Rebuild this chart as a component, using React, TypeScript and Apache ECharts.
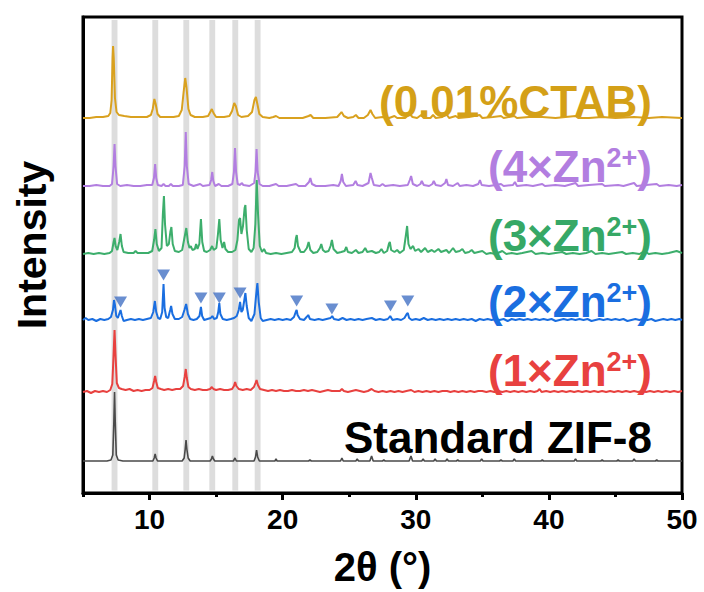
import React, { useEffect, useRef } from 'react';
import * as echarts from 'echarts';

// ---- axis / layout data ----
const xMin = 5;
const xMax = 50;
const majorTicks = [10, 20, 30, 40, 50];
const minorTicks = [5, 15, 25, 35, 45];
const xAxisName = '2θ (°)';
const yAxisName = 'Intensity';

// gray reference bands (2θ centres of standard ZIF-8 reflections)
const bandCenters = [7.37, 10.43, 12.76, 14.71, 16.44, 18.12];
const bandHalfWidth = 0.22;

// ---- pattern data: [2θ, intensity above its own baseline] ----
const stdPattern = [
  [5, 0], [5.6, 0], [6.2, 0], [6.8, 0], [7.1, 1], [7.24, 6], [7.32, 40], [7.37, 69], [7.42, 40], [7.5, 6], [7.64, 1],
  [8.0, 0], [8.6, 0], [9.2, 0], [9.8, 0], [10.25, 0], [10.35, 3], [10.42, 7], [10.49, 3], [10.6, 0], [11.2, 0], [11.8, 0],
  [12.45, 0], [12.6, 3], [12.68, 12], [12.74, 21], [12.8, 12], [12.9, 3], [13.05, 0], [13.8, 0], [14.55, 0], [14.65, 2],
  [14.72, 5], [14.8, 2], [14.9, 0], [15.6, 0], [16.3, 0], [16.42, 3], [16.52, 0], [17.2, 0], [17.85, 0], [17.96, 4],
  [18.04, 11], [18.12, 4], [18.25, 0], [18.9, 0], [19.42, 0], [19.5, 2], [19.58, 0], [20.5, 0], [21.95, 0], [22.05, 1],
  [22.15, 0], [23.2, 0], [24.35, 0], [24.45, 3], [24.55, 0], [25.5, 0], [25.6, 2], [25.7, 0], [26.55, 0], [26.68, 5],
  [26.8, 0], [27.5, 0], [27.6, 1], [27.7, 0], [28.5, 0], [29.5, 0], [29.64, 5], [29.76, 0], [30.45, 0], [30.55, 2],
  [30.65, 0], [31.35, 0], [31.45, 2], [31.55, 0], [32.25, 0], [32.35, 2], [32.45, 0], [33.05, 0], [33.15, 1], [33.25, 0],
  [34.85, 0], [34.95, 2], [35.05, 0], [36.3, 0], [36.4, 1], [36.5, 0], [37.3, 0], [37.4, 2], [37.5, 0], [39.4, 0],
  [39.5, 1], [39.6, 0], [41.0, 0], [41.9, 0], [42.0, 2], [42.1, 0], [43.9, 0], [44.0, 1], [44.1, 0], [45.1, 0],
  [45.2, 1], [45.3, 0], [46.3, 0], [46.4, 2], [46.5, 0], [48.0, 0], [48.1, 1], [48.2, 0], [49.2, 0], [50, 0],
];

const zn1Pattern = [
  [5, 0], [5.3, 1], [5.6, -1], [5.9, 1], [6.2, 0], [6.5, 1], [6.8, 0], [7.05, 2], [7.2, 8], [7.3, 38], [7.37, 62],
  [7.44, 38], [7.54, 9], [7.7, 4], [7.9, 3], [8.2, 2], [8.5, 3], [8.8, 1], [9.1, 2], [9.4, 1], [9.7, 2], [10.0, 2],
  [10.22, 4], [10.34, 11], [10.42, 16], [10.5, 10], [10.62, 4], [10.85, 3], [11.1, 2], [11.4, 3], [11.7, 2], [12.0, 3],
  [12.3, 3], [12.52, 6], [12.64, 15], [12.72, 23], [12.8, 14], [12.92, 5], [13.1, 3], [13.4, 2], [13.7, 3], [14.0, 2],
  [14.3, 2], [14.55, 3], [14.68, 5], [14.8, 3], [15.0, 2], [15.3, 3], [15.6, 2], [15.9, 2], [16.2, 3], [16.34, 6],
  [16.43, 10], [16.52, 6], [16.7, 3], [17.0, 2], [17.3, 3], [17.6, 2], [17.84, 5], [17.96, 9], [18.04, 12], [18.14, 7],
  [18.3, 3], [18.6, 2], [18.9, 1], [19.2, 2], [19.5, 1], [19.8, 2], [20.1, 1], [20.4, 1], [20.7, 2], [21.0, 1],
  [21.3, 1], [21.6, 2], [21.9, 1], [22.2, 2], [22.5, 1], [22.8, 0], [23.1, 1], [23.4, 2], [23.7, 1], [24.0, 1],
  [24.3, 1], [24.45, 3], [24.6, 1], [24.9, 0], [25.2, 1], [25.5, 2], [25.8, 1], [26.1, 0], [26.4, 1], [26.68, 3],
  [26.9, 1], [27.2, 0], [27.5, 1], [27.8, 0], [28.1, 1], [28.4, 0], [28.7, 1], [29.0, 0], [29.3, 1], [29.65, 2],
  [29.9, 0], [30.2, 1], [30.5, 0], [30.8, 1], [31.1, 0], [31.4, 1], [31.7, 0], [32.0, 1], [32.35, 1], [32.6, 0],
  [32.9, 1], [33.2, 0], [33.5, 1], [33.8, 0], [34.1, 1], [34.4, 0], [34.7, 1], [35.0, 1], [35.3, 0], [35.6, 1],
  [35.9, 0], [36.2, 1], [36.5, 0], [36.8, 1], [37.1, 0], [37.4, 1], [37.7, 0], [38.0, 1], [38.3, 0], [38.6, 1],
  [38.9, 0], [39.15, 1], [39.3, 3], [39.45, 0], [39.8, 1], [40.1, 0], [40.4, 1], [40.7, 0], [41.0, 1], [41.3, 0],
  [41.6, 1], [41.9, 0], [42.2, 1], [42.5, 0], [42.8, 1], [43.1, 0], [43.4, 1], [43.7, 0], [44.0, 1], [44.3, 0],
  [44.6, 1], [44.9, 0], [45.2, 1], [45.5, 0], [45.8, 1], [46.1, 0], [46.4, 1], [46.7, 0], [47.0, 1], [47.3, 0],
  [47.6, 1], [47.9, 0], [48.2, 1], [48.5, 0], [48.8, 1], [49.1, 0], [49.4, 1], [49.7, 0], [50, 1],
];

const zn2Pattern = [
  [5, 0], [5.2, 2], [5.4, 0], [5.7, 1], [6.0, -1], [6.3, 1], [6.6, 0], [6.9, 1], [7.1, 3], [7.25, 10], [7.33, 20],
  [7.4, 15], [7.5, 4], [7.62, 2], [7.72, 6], [7.82, 10], [7.92, 4], [8.05, -1], [8.3, 0], [8.6, 1], [8.9, 0], [9.2, 1],
  [9.5, 0], [9.8, 1], [10.1, 2], [10.28, 8], [10.4, 19], [10.5, 8], [10.64, 2], [10.8, 1], [10.95, 8], [11.05, 36],
  [11.13, 12], [11.25, 3], [11.4, 2], [11.55, 10], [11.62, 14], [11.72, 6], [11.9, 1], [12.2, 1], [12.45, 3],
  [12.62, 10], [12.75, 16], [12.88, 6], [13.05, 1], [13.3, 0], [13.55, 1], [13.75, 4], [13.86, 13], [13.95, 4],
  [14.1, 0], [14.35, 1], [14.6, 2], [14.72, 4], [14.85, 1], [15.05, 2], [15.16, 8], [15.24, 17], [15.32, 6], [15.5, 1],
  [15.8, 0], [16.1, 1], [16.35, 2], [16.55, 4], [16.7, 10], [16.8, 18], [16.9, 8], [17.0, 10], [17.12, 20], [17.2, 27],
  [17.3, 14], [17.45, 2], [17.65, -1], [17.88, 6], [18.0, 24], [18.1, 37], [18.2, 18], [18.35, 2], [18.5, -1],
  [18.8, 0], [19.1, 1], [19.4, 0], [19.7, 1], [20.0, 0], [20.3, 1], [20.6, 0], [20.85, 3], [20.98, 8], [21.05, 10],
  [21.12, 5], [21.3, 1], [21.6, 0], [21.8, 3], [21.92, 5], [22.05, 1], [22.4, 0], [22.7, 1], [23.0, 0], [23.3, 1],
  [23.6, 2], [23.72, 4], [23.85, 1], [24.2, 0], [24.5, 2], [24.8, 0], [25.1, 1], [25.4, 0], [25.7, 1], [26.0, 0],
  [26.3, 1], [26.7, 2], [27.0, 0], [27.3, 1], [27.6, 0], [27.9, 1], [28.08, 4], [28.25, 0], [28.6, 1], [28.9, 0],
  [29.15, 2], [29.32, 6], [29.4, 7], [29.5, 2], [29.7, 0], [30.0, 1], [30.3, 0], [30.6, 2], [30.9, 0], [31.2, 1],
  [31.5, 0], [31.8, 1], [32.1, 0], [32.4, 1], [32.7, 0], [33.0, 1], [33.3, 0], [33.6, 1], [33.9, 0], [34.2, 1],
  [34.5, -1], [34.8, 1], [35.1, 0], [35.4, 1], [35.7, 0], [36.0, 1], [36.3, 0], [36.6, 1], [36.9, -1], [37.2, 1],
  [37.5, 0], [37.8, 1], [38.1, 0], [38.4, 1], [38.7, 0], [39.0, 1], [39.3, 0], [39.6, 1], [39.9, 0], [40.2, 1],
  [40.5, -1], [40.8, 0], [41.1, 1], [41.4, 0], [41.7, 1], [42.0, 0], [42.3, 1], [42.6, 0], [42.9, 1], [43.2, -1],
  [43.5, 0], [43.8, 1], [44.1, 0], [44.4, 1], [44.7, 0], [45.0, 1], [45.3, 0], [45.6, 1], [45.9, -1], [46.2, 0],
  [46.5, 1], [46.8, 0], [47.1, 1], [47.4, 0], [47.7, 1], [48.0, -1], [48.3, 0], [48.6, 1], [48.9, 0], [49.2, 1],
  [49.5, 0], [49.8, 1], [50, 0],
];

// triangle markers on the 2×Zn2+ pattern: [2θ, height above baseline]
const zn2Markers = [
  [7.82, 18], [11.05, 45], [13.86, 22], [15.24, 22], [16.8, 27], [21.05, 19], [23.7, 11], [28.1, 14], [29.4, 19],
];

const zn3Pattern = [
  [5, 0], [5.4, 1], [5.8, 0], [6.2, 1], [6.6, 0], [7.0, 1], [7.18, 3], [7.3, 12], [7.37, 16], [7.45, 8], [7.58, 4],
  [7.72, 12], [7.82, 20], [7.92, 8], [8.05, 2], [8.4, 1], [8.8, 1], [8.95, 3], [9.1, 1], [9.5, 1], [9.9, 1], [10.2, 3],
  [10.34, 14], [10.44, 25], [10.54, 10], [10.7, 3], [10.9, 6], [11.0, 40], [11.08, 58], [11.16, 30], [11.3, 8],
  [11.45, 10], [11.56, 22], [11.64, 27], [11.74, 10], [11.9, 3], [12.2, 2], [12.45, 4], [12.62, 16], [12.76, 26],
  [12.88, 12], [13.0, 6], [13.1, 8], [13.22, 4], [13.4, 5], [13.5, 10], [13.6, 5], [13.74, 10], [13.86, 35],
  [13.96, 12], [14.1, 3], [14.3, 2], [14.55, 4], [14.7, 8], [14.82, 4], [15.02, 6], [15.14, 20], [15.24, 35],
  [15.34, 14], [15.48, 6], [15.6, 12], [15.7, 5], [15.9, 2], [16.2, 2], [16.45, 4], [16.6, 14], [16.72, 34], [16.8, 36],
  [16.9, 20], [17.02, 28], [17.14, 46], [17.2, 49], [17.3, 24], [17.45, 5], [17.65, 2], [17.82, 6], [17.95, 30],
  [18.05, 74], [18.15, 40], [18.28, 8], [18.45, 2], [18.6, 5], [18.75, 1], [19.1, 0], [19.5, 1], [19.9, 0], [20.3, 1],
  [20.7, 2], [20.9, 6], [21.0, 16], [21.06, 19], [21.15, 8], [21.35, 2], [21.6, 2], [21.82, 6], [21.95, 12],
  [22.08, 4], [22.3, 1], [22.6, 2], [22.8, 6], [22.9, 10], [23.02, 4], [23.2, 2], [23.45, 3], [23.6, 8], [23.7, 14],
  [23.82, 5], [24.1, 1], [24.4, 2], [24.65, 3], [24.78, 7], [24.9, 2], [25.2, 1], [25.5, 4], [25.7, 1], [26.0, 2],
  [26.2, 6], [26.35, 2], [26.7, 3], [27.0, 1], [27.25, 2], [27.42, 5], [27.6, 1], [27.85, 3], [27.98, 10], [28.05, 12],
  [28.15, 4], [28.4, 2], [28.6, 4], [28.8, 1], [29.1, 4], [29.25, 18], [29.35, 28], [29.45, 10], [29.6, 5], [29.8, 8],
  [29.95, 3], [30.2, 5], [30.4, 2], [30.7, 6], [30.9, 2], [31.2, 4], [31.4, 2], [31.7, 5], [31.9, 2], [32.3, 4],
  [32.5, 1], [32.8, 6], [33.0, 2], [33.3, 3], [33.5, 5], [33.7, 1], [34.0, 2], [34.2, 4], [34.4, 1], [34.7, 2],
  [35.0, 3], [35.3, 0], [35.6, 1], [36.0, 0], [36.5, 3], [36.8, 0], [37.2, 1], [37.6, 0], [38.0, 1], [38.7, 3],
  [39.0, 0], [39.5, 1], [40.0, 0], [40.5, 1], [41.0, 2], [41.3, 0], [41.8, 1], [42.3, 0], [42.8, 1], [43.2, 3],
  [43.5, 0], [44.0, 1], [44.5, 0], [45.0, 1], [45.5, 2], [45.8, 0], [46.3, 1], [46.8, 0], [47.2, 3], [47.5, 0],
  [48.0, 1], [48.5, 0], [49.0, 1], [49.6, 3], [50, 1],
];

const zn4Pattern = [
  [5, 0], [5.5, 0], [6.0, 1], [6.5, 0], [7.0, 0], [7.18, 2], [7.3, 20], [7.37, 42], [7.44, 20], [7.56, 2], [7.8, 0],
  [8.3, 1], [8.8, 0], [9.3, 0], [9.8, 1], [10.2, 1], [10.33, 8], [10.42, 22], [10.5, 8], [10.62, 1], [10.9, 0],
  [11.05, 2], [11.2, 0], [11.45, 0], [11.6, 2], [11.75, 0], [12.2, 0], [12.5, 1], [12.64, 20], [12.72, 54], [12.8, 20],
  [12.94, 2], [13.3, 0], [13.8, 2], [14.0, 0], [14.5, 1], [14.63, 6], [14.71, 14], [14.79, 5], [14.92, 0], [15.2, 2],
  [15.4, 0], [15.9, 0], [16.22, 2], [16.34, 14], [16.42, 38], [16.5, 14], [16.62, 2], [16.8, 1], [16.92, 3], [17.05, 1],
  [17.5, 0], [17.86, 3], [17.96, 14], [18.04, 37], [18.12, 14], [18.26, 2], [18.5, 0], [19.0, 0], [19.5, 2], [19.7, 0],
  [20.3, 0], [21.0, 2], [21.2, 0], [21.7, 0], [21.98, 4], [22.08, 8], [22.2, 2], [22.5, 0], [23.2, 0], [23.8, 1],
  [24.2, 0], [24.36, 5], [24.45, 12], [24.55, 4], [24.75, 0], [25.3, 1], [25.48, 5], [25.62, 1], [26.0, 0], [26.45, 3],
  [26.6, 13], [26.7, 8], [26.85, 1], [27.3, 0], [27.5, 2], [27.7, 0], [28.3, 1], [28.8, 0], [29.4, 1], [29.55, 6],
  [29.65, 10], [29.78, 2], [30.1, 0], [30.35, 2], [30.45, 5], [30.6, 1], [31.0, 0], [31.25, 2], [31.35, 5], [31.5, 1],
  [31.9, 0], [32.2, 3], [32.3, 7], [32.42, 1], [32.8, 0], [33.15, 3], [33.3, 0], [33.8, 1], [34.3, 0], [34.7, 2],
  [34.82, 6], [34.95, 1], [35.5, 0], [36.0, 1], [36.4, 2], [36.6, 0], [37.3, 1], [37.45, 4], [37.6, 0], [38.3, 1],
  [38.8, 0], [39.5, 2], [39.7, 0], [40.5, 1], [41.2, 0], [42.0, 3], [42.2, 0], [43.0, 1], [44.0, 2], [44.2, 0],
  [45.2, 1], [45.6, 0], [46.4, 3], [46.6, 0], [47.3, 1], [48.1, 2], [48.3, 0], [49.0, 1], [49.6, 0], [50, 1],
];

const ctabPattern = [
  [5, 0], [5.5, 0], [6.0, 1], [6.5, 1], [6.9, 2], [7.05, 5], [7.15, 18], [7.22, 60], [7.26, 72], [7.31, 60],
  [7.4, 20], [7.52, 6], [7.7, 3], [8.1, 2], [8.6, 1], [9.2, 1], [9.8, 1], [10.1, 3], [10.24, 9], [10.36, 19],
  [10.46, 14], [10.6, 4], [10.8, 1], [11.3, 1], [11.8, 1], [12.2, 2], [12.42, 8], [12.56, 26], [12.68, 40],
  [12.78, 30], [12.92, 9], [13.08, 3], [13.4, 1], [14.0, 1], [14.4, 2], [14.56, 6], [14.68, 9], [14.8, 5], [15.0, 1],
  [15.6, 1], [16.0, 2], [16.2, 7], [16.36, 15], [16.48, 12], [16.65, 3], [16.9, 1], [17.4, 2], [17.7, 6], [17.88, 18],
  [17.99, 21], [18.1, 14], [18.25, 4], [18.5, 1], [19.0, 0], [19.3, 1], [19.5, 2], [19.75, 0], [20.5, 0], [21.5, 0],
  [21.95, 2], [22.1, 3], [22.3, 0], [23.2, 0], [24.1, 1], [24.3, 4], [24.42, 6], [24.6, 2], [24.9, 0], [25.3, 1],
  [25.5, 3], [25.7, 0], [26.1, 0], [26.4, 3], [26.6, 8], [26.74, 4], [26.95, 0], [27.5, 1], [28.0, 0], [28.4, 2],
  [28.6, 0], [29.2, 0], [29.55, 4], [29.75, 1], [30.1, 0], [30.4, 3], [30.6, 0], [31.1, 0], [31.3, 3], [31.5, 0],
  [32.0, 1], [32.3, 4], [32.5, 0], [33.0, 2], [33.2, 0], [34.0, 1], [34.8, 3], [35.0, 0], [35.8, 1], [36.4, 2],
  [36.6, 0], [37.4, 2], [37.6, 0], [38.5, 1], [39.5, 1], [40.5, 0], [42.0, 2], [42.2, 0], [43.0, 0], [44.0, 1],
  [45.0, 0], [46.4, 1], [47.5, 0], [48.5, 1], [50, 0],
];

// stacking: bottom to top
const seriesNames = ['Standard ZIF-8', '(1×Zn2+)', '(2×Zn2+)', '(3×Zn2+)', '(4×Zn2+)', '(0.01%CTAB)'];
const seriesPatterns = [stdPattern, zn1Pattern, zn2Pattern, zn3Pattern, zn4Pattern, ctabPattern];
const seriesOffsets = [32, 101, 173, 239, 307, 375];
const seriesColors = ['#4a4a4a', '#E8413F', '#1A6EE0', '#3DAE6C', '#B27EE0', '#D9A11F'];
const labelColors = ['#000000', '#E8413F', '#1A6EE0', '#36A866', '#B27EE0', '#D4A017'];
const labelMain = ['Standard ZIF-8', '(1×Zn', '(2×Zn', '(3×Zn', '(4×Zn', '(0.01%CTAB)'];
const labelSup = ['', '2+', '2+', '2+', '2+', ''];
const labelCenterY = [437, 370, 301, 235, 166, 101];
const yMaxUnits = 476;

const FONT = '"Liberation Sans", Arial, Helvetica, sans-serif';

export default function App() {
  const ref = useRef<HTMLDivElement>(null);
  useEffect(() => {
    if (!ref.current) return;
    const chart = echarts.init(ref.current, undefined, { renderer: 'svg' });

    const lineSeries = seriesPatterns.map((pat, i) => ({
      name: seriesNames[i],
      type: 'line',
      data: pat.map(([x, y]) => [x, y + seriesOffsets[i]]),
      showSymbol: false,
      symbol: 'none',
      silent: true,
      z: 2,
      lineStyle: { color: seriesColors[i], width: i === 0 ? 1.6 : 2 },
    }));

    const bandSeries = {
      name: 'bands',
      type: 'line',
      data: [],
      z: 5,
      silent: true,
      markArea: {
        silent: true,
        itemStyle: { color: 'rgba(200,200,200,0.62)' },
        data: bandCenters.map((c) => [
          { xAxis: c - bandHalfWidth, yAxis: 2.5 },
          { xAxis: c + bandHalfWidth, yAxis: 473 },
        ]),
      },
    };

    const markerSeries = {
      name: 'markers',
      type: 'scatter',
      data: zn2Markers.map(([x, y]) => [x, y + seriesOffsets[2]]),
      symbol: 'triangle',
      symbolRotate: 180,
      symbolSize: [13, 11],
      itemStyle: { color: '#4472C4' },
      z: 6,
      silent: true,
    };

    const labelGraphics = labelMain.map((m, i) => {
      const color = labelColors[i];
      const text = labelSup[i] ? `{m|${m}}{s|${labelSup[i]}}{m|)}` : `{m|${m}}`;
      return {
        type: 'text',
        x: 652,
        y: labelCenterY[i],
        z: 100,
        silent: true,
        style: {
          text,
          align: 'right',
          verticalAlign: 'middle',
          rich: {
            m: { fontSize: 44, fontWeight: 'bold', fontFamily: FONT, fill: color },
            s: { fontSize: 27, fontWeight: 'bold', fontFamily: FONT, fill: color, verticalAlign: 'top' },
          },
        },
      };
    });

    chart.setOption({
      animation: false,
      backgroundColor: '#ffffff',
      grid: {
        left: 83,
        right: 22,
        top: 17,
        bottom: 99,
        show: true,
        borderColor: '#000',
        borderWidth: 3,
        containLabel: false,
      },
      xAxis: [
        {
          type: 'value',
          min: xMin,
          max: xMax,
          position: 'bottom',
          name: xAxisName,
          nameLocation: 'middle',
          nameGap: 54,
          nameTextStyle: { fontSize: 40, fontWeight: 'bold', color: '#000', fontFamily: FONT },
          axisLine: { show: true, lineStyle: { color: '#000', width: 3 } },
          axisTick: { show: true, customValues: majorTicks, length: 7, lineStyle: { color: '#000', width: 3 } },
          axisLabel: {
            show: true,
            customValues: majorTicks,
            fontSize: 28,
            fontWeight: 'bold',
            color: '#000',
            fontFamily: FONT,
            margin: 12,
          },
          splitLine: { show: false },
        },
        {
          type: 'value',
          min: xMin,
          max: xMax,
          position: 'bottom',
          axisLine: { show: false },
          axisTick: { show: true, customValues: minorTicks, length: 4, lineStyle: { color: '#000', width: 3 } },
          axisLabel: { show: false },
          splitLine: { show: false },
        },
      ],
      yAxis: {
        type: 'value',
        min: 0,
        max: yMaxUnits,
        axisLine: { show: true, lineStyle: { color: '#000', width: 3 } },
        axisTick: { show: false },
        axisLabel: { show: false },
        splitLine: { show: false },
      },
      graphic: [
        ...labelGraphics,
        {
          type: 'text',
          x: 32,
          y: 245,
          rotation: Math.PI / 2,
          z: 100,
          silent: true,
          style: {
            text: yAxisName,
            align: 'center',
            verticalAlign: 'middle',
            fontSize: 41,
            fontWeight: 'bold',
            fontFamily: FONT,
            fill: '#000',
          },
        },
      ],
      series: [...lineSeries, bandSeries, markerSeries],
    });

    return () => chart.dispose();
  }, []);

  return (
    <div
      ref={ref}
      style={{ position: 'fixed', left: 0, top: 0, width: 704, height: 592, background: '#fff' }}
    />
  );
}
